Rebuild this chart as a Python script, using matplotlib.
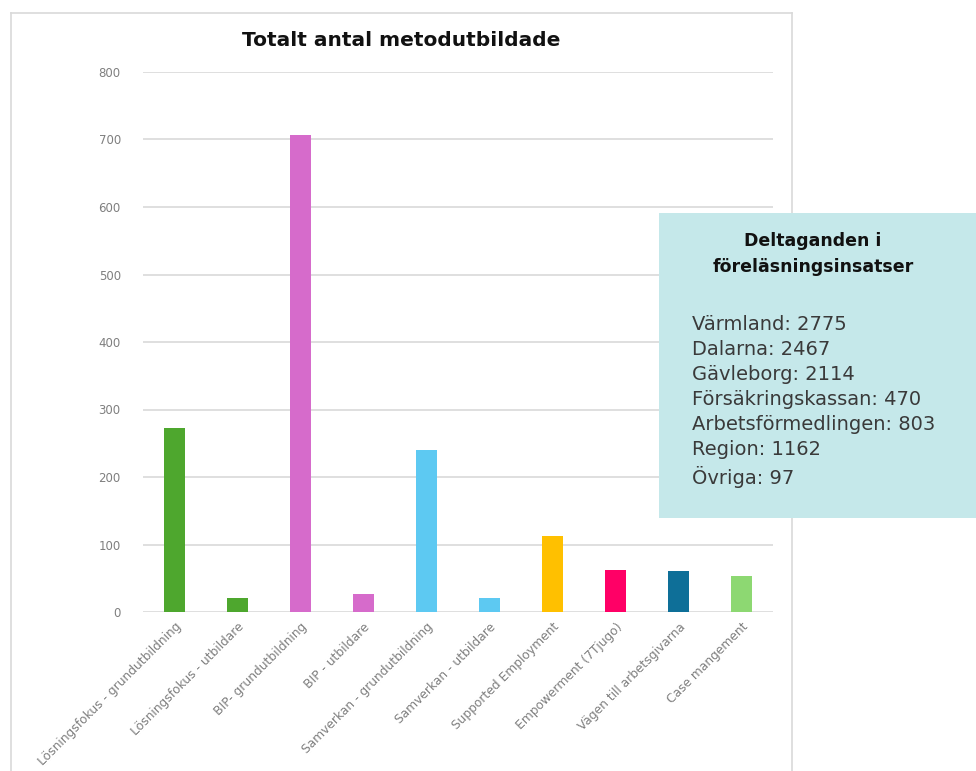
import matplotlib.pyplot as plt
from matplotlib.patches import Rectangle
from matplotlib.lines import Line2D

categories = [
    'Lösningsfokus - grundutbildning',
    'Lösningsfokus - utbildare',
    'BIP- grundutbildning',
    'BIP - utbildare',
    'Samverkan - grundutbildning',
    'Samverkan - utbildare',
    'Supported Employment',
    'Empowerment (7Tjugo)',
    'Vägen till arbetsgivarna',
    'Case mangement',
]
values = [273, 21, 706, 26, 240, 21, 113, 62, 61, 54]
colors = ['#4EA72E', '#4EA72E', '#D66BCB', '#D66BCB', '#5DC9F2', '#5DC9F2',
          '#FFC000', '#FF0066', '#0E6F98', '#8DD872']
yticks = [0, 100, 200, 300, 400, 500, 600, 700, 800]

box_title = 'Deltaganden i\nföreläsningsinsatser'
box_lines = ['Värmland: 2775', 'Dalarna: 2467', 'Gävleborg: 2114',
             'Försäkringskassan: 470', 'Arbetsförmedlingen: 803',
             'Region: 1162', 'Övriga: 97']

plt.rcParams['font.family'] = ['DejaVu Sans']

fig = plt.figure(figsize=(9.76, 7.71), dpi=100)
W, H = 976, 771

# outer chart frame
frame_col = '#D9D9D9'
fig.add_artist(Line2D([11 / W, 11 / W], [0, 1 - 13 / H], color=frame_col, lw=1.2))
fig.add_artist(Line2D([11 / W, 792 / W], [1 - 13 / H, 1 - 13 / H], color=frame_col, lw=1.2))
fig.add_artist(Line2D([792 / W, 792 / W], [0, 1 - 13 / H], color=frame_col, lw=1.2))

ax = fig.add_axes([143 / W, 1 - 612 / H, 630 / W, 540 / H])
x = list(range(len(categories)))
ax.bar(x, values, width=0.32, color=colors, zorder=3)
ax.set_xlim(-0.5, len(categories) - 0.5)
ax.set_ylim(0, 800)
ax.set_yticks(yticks)
ax.set_yticklabels([str(t) for t in yticks], color='#7F7F7F', fontsize=8.5)
ax.yaxis.grid(True, color='#D9D9D9', lw=1.2, zorder=0)
ax.set_axisbelow(True)
for s in ax.spines.values():
    s.set_visible(False)
ax.tick_params(axis='both', length=0)
ax.tick_params(axis='y', pad=16)
ax.set_xticks(x)
ax.set_xticklabels(categories, rotation=45, ha='right', rotation_mode='anchor',
                   color='#7F7F7F', fontsize=8.8)
ax.tick_params(axis='x', pad=6)

fig.text(401 / W, 1 - 40 / H, 'Totalt antal metodutbildade', ha='center', va='center',
         fontsize=14.5, fontweight='bold', color='#111111')

# info box
fig.add_artist(Rectangle((659 / W, 1 - 518 / H), (W - 659) / W, 305 / H,
                         transform=fig.transFigure, facecolor='#C5E8EA',
                         edgecolor='none', zorder=5))
fig.text(813 / W, 1 - 254 / H, box_title, ha='center', va='center', fontsize=12.5,
         fontweight='bold', color='#111111', linespacing=1.5, zorder=6)
fig.text(692 / W, 1 - 315 / H, '\n'.join(box_lines), ha='left', va='top',
         fontsize=14, color='#3A3A3A', linespacing=1.4, zorder=6)

fig.savefig('out.png', dpi=100)
